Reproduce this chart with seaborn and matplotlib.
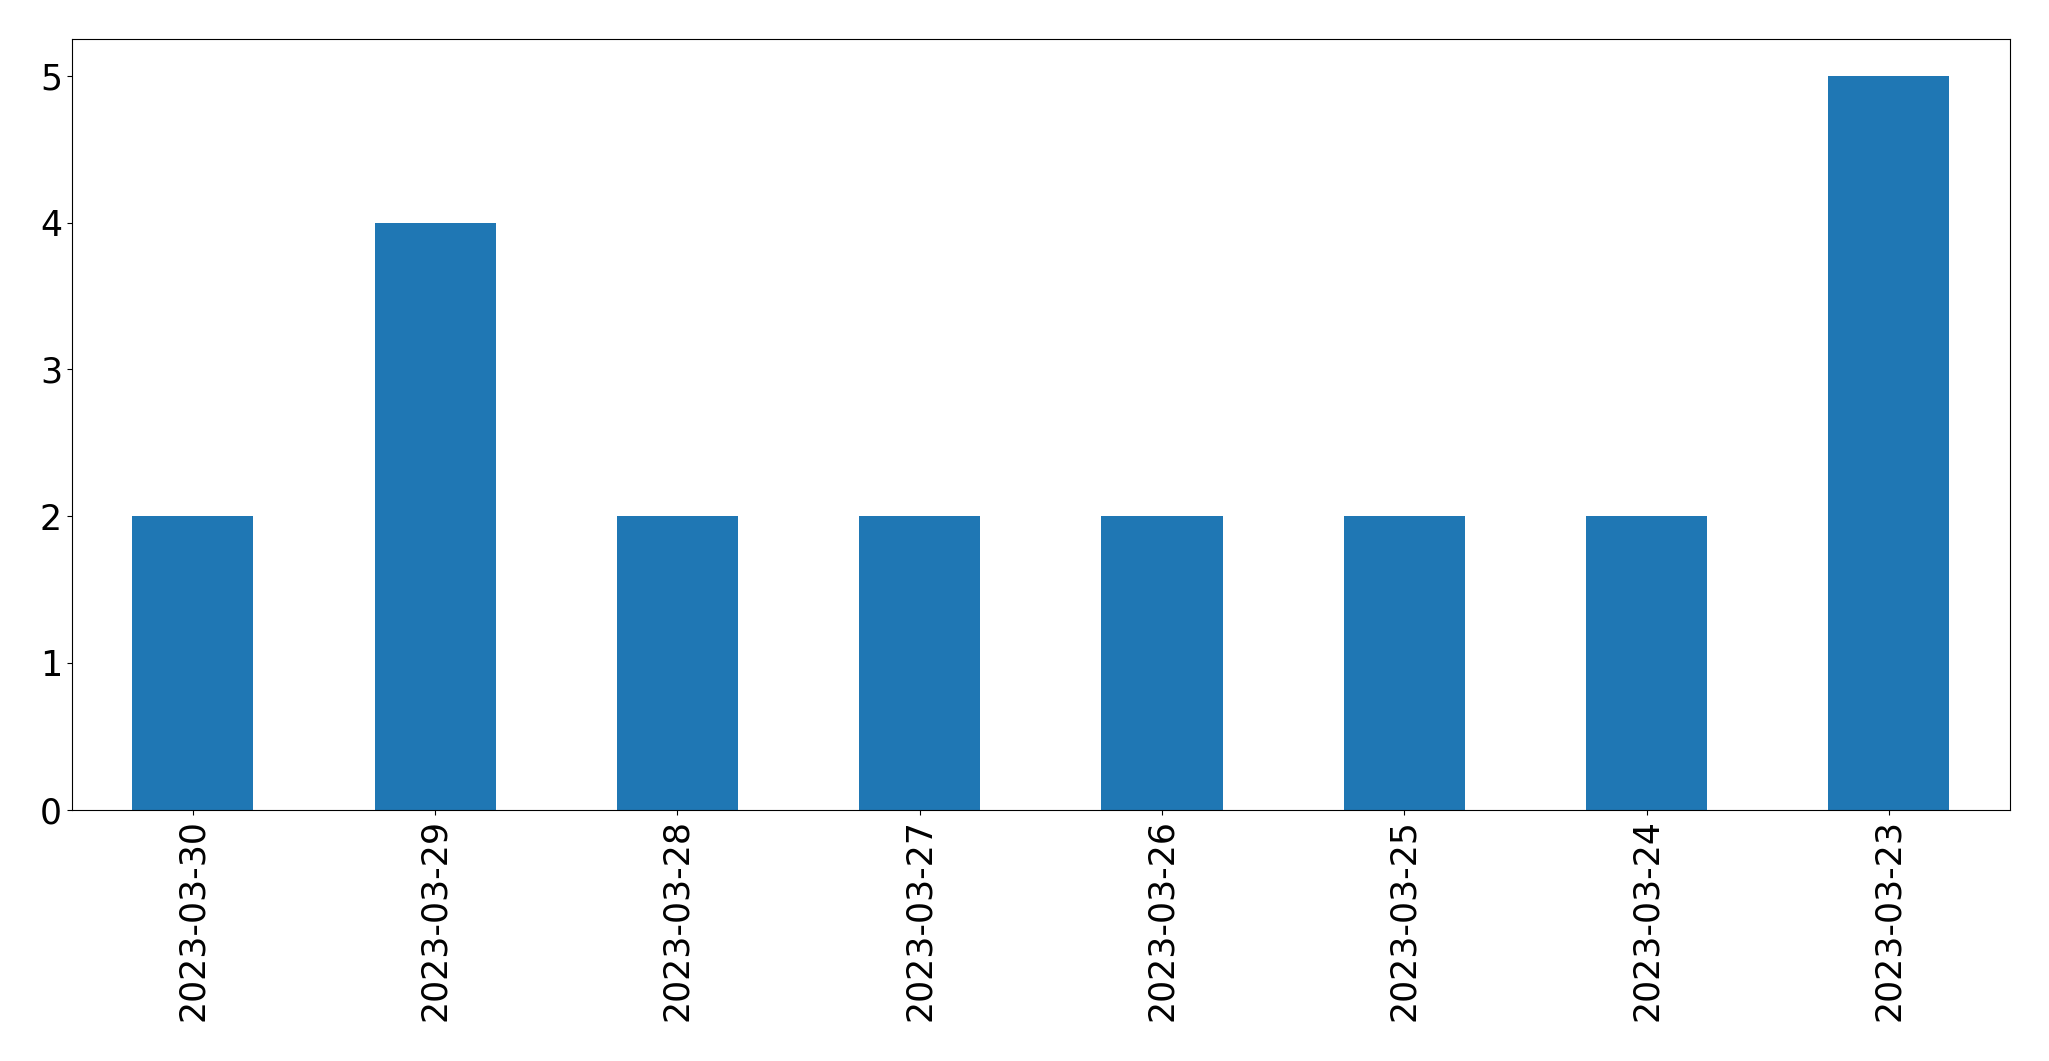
import pandas as pd
import seaborn as sns
import matplotlib.pyplot as plt

# Counts per day
dates = ["2023-03-30", "2023-03-29", "2023-03-28", "2023-03-27",
         "2023-03-26", "2023-03-25", "2023-03-24", "2023-03-23"]
counts = [2, 4, 2, 2, 2, 2, 2, 5]

df = pd.DataFrame({"date": dates, "count": counts})

fig, ax = plt.subplots(figsize=(20.49, 10.61), dpi=100)
sns.barplot(data=df, x="date", y="count", color="#1f77b4", saturation=1,
            width=0.5, linewidth=0, ax=ax)
ax.set_xlim(-0.5, len(dates) - 0.5)
ax.set_xlabel("")
ax.set_ylabel("")
ax.tick_params(axis="x", labelrotation=90, labelsize=25)
ax.tick_params(axis="y", labelsize=25)

fig.subplots_adjust(left=0.035, right=0.981, top=0.963, bottom=0.237)
fig.savefig("out.png")
